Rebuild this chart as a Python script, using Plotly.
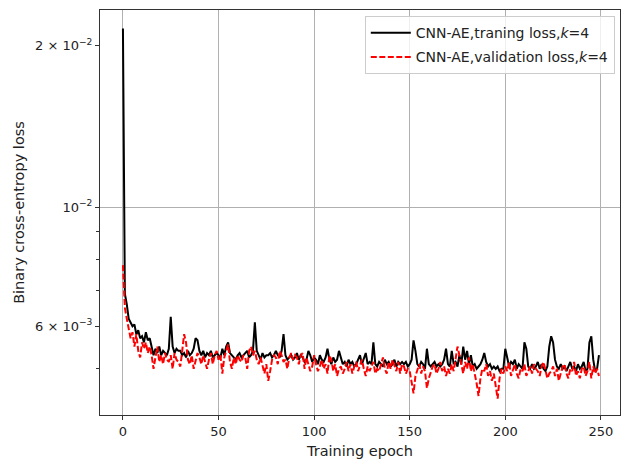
import plotly.graph_objects as go

# Loss values in units of 1e-3, epochs 0..249
train_loss_e3 = [
    21.5, 6.9, 6.6, 6.2, 6.1, 6.0, 6.05, 5.8, 5.9, 5.7,
    5.75, 5.6, 5.85, 5.65, 5.7, 5.5, 5.3, 5.45, 5.35, 5.5,
    5.3, 5.4, 5.35, 5.3, 5.45, 6.25, 5.5, 5.35, 5.45, 5.4,
    5.4, 5.3, 5.35, 5.25, 5.4, 5.3, 5.35, 5.45, 5.7, 5.65,
    5.4, 5.3, 5.4, 5.25, 5.35, 5.3, 5.4, 5.25, 5.3, 5.35,
    5.3, 5.25, 5.45, 5.3, 5.5, 5.6, 5.35, 5.3, 5.25, 5.2,
    5.3, 5.35, 5.25, 5.3, 5.35, 5.4, 5.25, 5.3, 5.4, 6.1,
    5.4, 5.3, 5.2, 5.35, 5.25, 5.3, 5.3, 5.35, 5.25, 5.3,
    5.4, 5.3, 5.25, 5.4, 5.8, 5.3, 5.2, 5.25, 5.3, 5.2,
    5.25, 5.35, 5.2, 5.3, 5.25, 5.15, 5.2, 5.4, 5.3, 5.15,
    5.25, 5.2, 5.1, 5.3, 5.2, 5.15, 5.25, 5.45, 5.2, 5.1,
    5.25, 5.15, 5.2, 5.4, 5.25, 5.1, 5.15, 5.05, 5.2, 5.1,
    5.15, 5.05, 5.1, 5.2, 5.3, 5.1, 5.25, 5.35, 5.1, 5.15,
    5.1, 5.6, 5.1, 5.05, 5.15, 5.1, 5.05, 5.2, 5.1, 5.15,
    5.05, 5.1, 5.2, 5.05, 5.15, 5.1, 5.15, 5.1, 5.15, 5.05,
    5.1, 5.2, 5.65, 5.4, 5.1, 5.05, 5.15, 5.1, 5.0, 5.45,
    5.1, 5.05, 5.1, 5.15, 5.05, 5.1, 5.05, 5.1, 5.2, 5.45,
    5.1, 5.05, 5.4, 5.1, 5.15, 5.05, 5.3, 5.1, 5.5, 5.2,
    5.4, 5.1, 5.3, 5.05, 5.1, 5.0, 5.05, 5.1, 5.2, 5.35,
    5.15, 5.05, 5.1, 5.0, 5.05, 5.0, 5.05, 4.95, 5.0, 5.0,
    5.45, 5.2, 5.05, 5.15, 5.1, 5.2, 5.0, 5.1, 5.05, 5.0,
    5.6, 5.45, 5.05, 5.0, 5.1, 5.0, 5.05, 5.15, 5.0, 5.1,
    5.0, 4.95, 5.05, 5.5, 5.75, 5.6, 5.2, 5.05, 5.0, 5.1,
    5.0, 5.05, 4.95, 5.05, 5.15, 5.0, 5.05, 4.95, 5.1, 5.0,
    5.05, 5.15, 4.95, 5.0, 5.6, 5.75, 5.2, 4.95, 5.0, 5.3,
]

val_loss_e3 = [
    7.8, 6.5, 6.2, 5.9, 5.7, 5.85, 5.5, 5.8, 5.4, 5.25,
    5.6, 5.45, 5.6, 5.35, 5.5, 5.3, 5.0, 5.25, 5.5, 5.15,
    5.3, 5.1, 5.35, 5.2, 5.15, 5.3, 5.0, 5.35, 5.2, 5.15,
    5.05, 5.4, 5.8, 5.6, 5.2, 5.1, 5.3, 5.0, 5.2, 5.35,
    5.25, 5.1, 5.3, 5.15, 5.0, 5.2, 5.35, 5.1, 5.3, 5.4,
    5.2, 5.3, 4.9, 5.25, 5.4, 5.55, 5.15, 5.0, 5.25, 5.1,
    5.3, 5.2, 5.15, 5.3, 5.25, 5.0, 5.4, 5.5, 5.3, 5.4,
    5.2, 5.1, 5.25, 5.05, 4.9, 5.1, 4.75, 4.95, 5.2, 5.3,
    5.25, 5.1, 5.4, 5.3, 5.15, 5.2, 5.0, 5.25, 5.35, 5.2,
    5.3, 5.25, 5.1, 5.3, 5.35, 5.0, 5.25, 5.1, 4.95, 5.05,
    5.3, 5.1, 4.95, 5.05, 5.2, 5.0, 5.1, 4.9, 5.3, 5.2,
    4.95, 5.1, 4.85, 5.0, 5.05, 4.9, 5.0, 5.15, 4.95, 5.1,
    4.9, 5.05, 5.15, 4.95, 5.1, 5.2, 5.0, 4.85, 5.05, 4.95,
    5.05, 5.15, 4.9, 5.0, 4.95, 5.1, 5.25, 5.0, 4.9, 5.15,
    5.0, 5.2, 5.05, 4.95, 5.15, 4.9, 5.1, 5.05, 4.9, 5.0,
    4.95, 4.75, 4.5, 4.85, 5.0, 5.1, 4.9, 5.05, 4.95, 4.6,
    4.8, 4.95, 5.05, 5.1, 4.9, 5.0, 5.15, 4.95, 5.05, 4.85,
    5.0, 4.9, 5.1, 4.95, 5.2, 5.5, 5.3, 5.05, 4.9, 5.15,
    5.0, 5.25, 4.95, 5.1, 4.9, 4.7, 4.45, 4.8, 5.0, 4.95,
    5.1, 4.85, 4.95, 4.75, 4.9, 4.6, 4.4, 4.8, 5.0, 4.9,
    5.05, 4.95, 5.15, 4.85, 5.0, 5.1, 4.9, 4.8, 5.0, 4.95,
    5.1, 4.85, 4.95, 5.05, 4.9, 5.1, 5.0, 4.95, 4.85, 5.05,
    5.15, 5.0, 4.8, 4.9, 4.95, 5.05, 4.85, 5.0, 4.75, 4.9,
    5.05, 5.1, 4.9, 4.8, 5.0, 4.95, 5.15, 4.85, 4.95, 4.8,
    5.0, 5.05, 4.85, 4.95, 5.15, 4.8, 5.05, 4.9, 5.0, 4.85,
]

epochs = list(range(len(train_loss_e3)))
train_loss = [v * 1e-3 for v in train_loss_e3]
val_loss = [v * 1e-3 for v in val_loss_e3]

x_tick_vals = [0, 50, 100, 150, 200, 250]
y_tick_vals = [0.006, 0.01, 0.02]
y_tick_text = ["6 × 10<sup>−3</sup>", "10<sup>−2</sup>", "2 × 10<sup>−2</sup>"]
y_minor_vals = [0.005, 0.007, 0.008, 0.009]
y_grid_vals = [0.01]
y_range_log = [-2.387, -1.633]

FONT = "DejaVu Sans, Verdana, sans-serif"

fig = go.Figure()
fig.add_trace(go.Scatter(
    x=epochs, y=train_loss, mode="lines",
    name="CNN-AE,traning loss,<i>k</i>=4", legendgroup="train",
    line=dict(color="black", width=2),
))
fig.add_trace(go.Scatter(
    x=epochs, y=val_loss, mode="lines",
    name="CNN-AE,validation loss,<i>k</i>=4", legendgroup="val",
    line=dict(color="#ff0000", width=2, dash="6px,2.5px"),
))

fig.update_layout(
    width=621, height=460,
    margin=dict(l=100, r=1, t=10, b=45),
    paper_bgcolor="white", plot_bgcolor="white",
    font=dict(family=FONT, size=13, color="#222222"),
    showlegend=True,
    legend=dict(
        x=0.99, y=0.985, xanchor="right", yanchor="top",
        bgcolor="rgba(255,255,255,0.8)", bordercolor="#cccccc", borderwidth=1,
        font=dict(family=FONT, size=14, color="#222222"),
        tracegroupgap=3, itemwidth=40,
    ),
    xaxis=dict(
        range=[-12.0, 260.0],
        tickvals=x_tick_vals,
        ticks="outside", ticklen=4, tickcolor="#333333",
        showgrid=True, gridcolor="#b0b0b0", gridwidth=1,
        zeroline=False,
        showline=True, linecolor="#333333", linewidth=1, mirror=True,
        title=dict(text="Training epoch", font=dict(size=14.5), standoff=8),
    ),
    yaxis=dict(
        type="log",
        range=y_range_log,
        tickvals=y_tick_vals, ticktext=y_tick_text,
        ticks="outside", ticklen=4, tickcolor="#333333",
        minor=dict(tickvals=y_minor_vals, ticks="outside", ticklen=3,
                   tickcolor="#333333", showgrid=False),
        showgrid=False, zeroline=False,
        showline=True, linecolor="#333333", linewidth=1, mirror=True,
        title=dict(text="Binary cross-entropy loss", font=dict(size=14.5), standoff=6),
    ),
    # overlay axis that only draws the major grid line at 1e-2
    yaxis2=dict(
        type="log", overlaying="y", side="left",
        range=y_range_log,
        tickvals=y_grid_vals, showticklabels=False, ticks="",
        showgrid=True, gridcolor="#b0b0b0", gridwidth=1,
        zeroline=False, showline=False,
    ),
)

# invisible helper trace so yaxis2 is rendered
fig.add_trace(go.Scatter(
    x=[epochs[0]], y=[y_grid_vals[0]], yaxis="y2", mode="markers",
    marker=dict(opacity=0), showlegend=False, hoverinfo="skip",
))

fig.write_html("out.html")
